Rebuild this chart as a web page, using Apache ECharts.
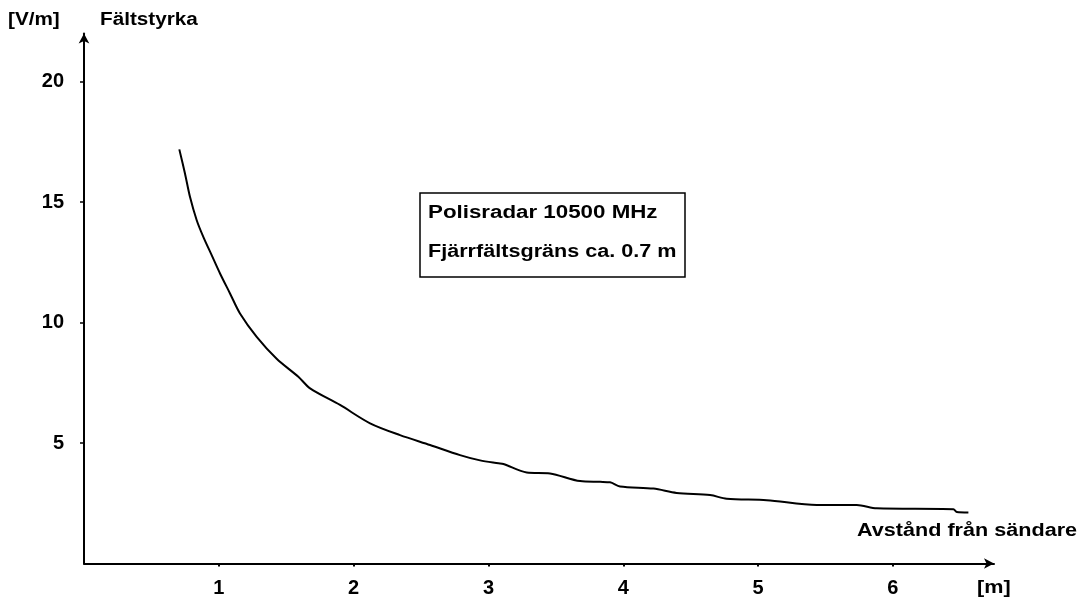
<!DOCTYPE html>
<html>
<head>
<meta charset="utf-8">
<script src="https://cdn.jsdelivr.net/npm/echarts@6/dist/echarts.min.js"></script>
<style>
html,body{margin:0;padding:0;background:#fff;}
#c{width:1085px;height:604px;}
</style>
</head>
<body>
<div id="c"></div>
<script>
// Distance from transmitter [m]
const distance = [0.707,0.749,0.786,0.836,0.885,0.947,1.009,1.083,1.157,1.281,1.429,1.59,1.677,1.899,2.122,2.344,2.567,2.789,2.938,3.074,3.111,3.284,3.457,3.68,3.828,3.902,3.976,4.224,4.396,4.644,4.767,5.064,5.435,5.732,5.88,6.449,6.474,6.56];
// Field strength [V/m]
const fieldStrength = [17.19,16.19,15.22,14.25,13.56,12.8,12.04,11.21,10.38,9.41,8.5,7.75,7.27,6.58,5.82,5.33,4.92,4.5,4.28,4.16,4.13,3.78,3.74,3.42,3.39,3.37,3.2,3.11,2.93,2.84,2.69,2.63,2.43,2.43,2.29,2.25,2.14,2.12];
const xTickLabels = [1,2,3,4,5,6];
const yTickLabels = [5,10,15,20];
const texts = {
  yUnit: '[V/m]', yName: 'Fältstyrka', xName: 'Avstånd från sändare', xUnit: '[m]',
  box1: 'Polisradar 10500 MHz', box2: 'Fjärrfältsgräns ca. 0.7 m'
};

const FONT = 'Liberation Sans, Arial, sans-serif';
const chart = echarts.init(document.getElementById('c'));
function txt(str, x, y, sx){
  return {type:'text', x:x, y:y, scaleX:sx||1.22, style:{text:str, fill:'#000', font:'bold 18px ' + FONT, align:'left', verticalAlign:'middle'}};
}
chart.setOption({
  animation:false,
  backgroundColor:'#fff',
  grid:{left:84, top:33.5, width:910, height:530},
  xAxis:{type:'value', min:0, max:6.75,
    axisLine:{lineStyle:{color:'#000', width:2}, symbol:['none','arrow'], symbolSize:[8,10]},
    axisTick:{show:true, customValues:xTickLabels, length:3, lineStyle:{color:'#000', width:2}},
    axisLabel:{customValues:xTickLabels, margin:15, color:'#000', fontSize:20, fontWeight:'bold', fontFamily:FONT},
    splitLine:{show:false}},
  yAxis:{type:'value', min:0, max:22,
    axisLine:{show:true, lineStyle:{color:'#000', width:2}, symbol:['none','arrow'], symbolSize:[8,10]},
    axisTick:{show:true, customValues:yTickLabels, length:4, lineStyle:{color:'#000', width:1.5}},
    axisLabel:{customValues:yTickLabels, margin:20, color:'#000', fontSize:20, fontWeight:'bold', fontFamily:FONT},
    splitLine:{show:false}},
  series:[{type:'line', data:distance.map((d,i)=>[d, fieldStrength[i]]), showSymbol:false, smooth:0.3,
    lineStyle:{color:'#000', width:2}}],
  graphic:[
    txt(texts.yUnit, 8, 20, 1.15),
    txt(texts.yName, 100, 20, 1.15),
    txt(texts.xName, 857, 531, 1.2),
    txt(texts.xUnit, 977, 588, 1.2),
    {type:'rect', shape:{x:420, y:193, width:265, height:84}, style:{fill:'none', stroke:'#000', lineWidth:1.5}},
    txt(texts.box1, 428, 213, 1.24),
    txt(texts.box2, 428, 252, 1.2)
  ]
});
</script>
</body>
</html>
